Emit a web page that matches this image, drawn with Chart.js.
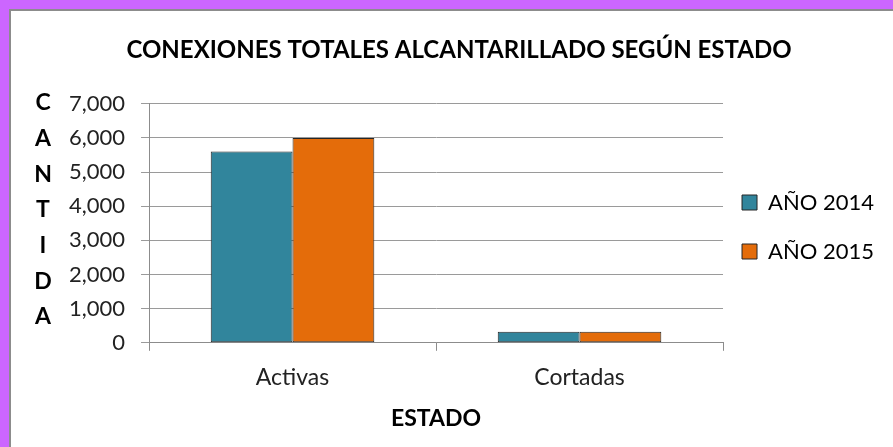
<!DOCTYPE html>
<html>
<head>
<meta charset="utf-8">
<script src="https://cdn.jsdelivr.net/npm/chart.js@4"></script>
<style>
  html, body { margin: 0; padding: 0; }
  body { width: 893px; height: 447px; background: #cc66ff; position: relative; overflow: hidden; }
  #marco { position: absolute; left: 9px; top: 9px; right: 0; bottom: 0; background: #fff;
           border-left: 2px solid #8c8c8c; border-top: 2px solid #8c8c8c; }
  #caja { position: absolute; left: 0; top: 0; width: 882px; height: 436px; }
</style>
</head>
<body>
<div id="marco"><div id="caja"><canvas id="grafico"></canvas></div></div>
<script>
// Datos
const categorias = ['Activas', 'Cortadas'];
const anio2014 = [5600, 320];
const anio2015 = [6000, 320];
const etiquetasSeries = ['AÑO 2014', 'AÑO 2015'];
const letrasEjeY = ['C', 'A', 'N', 'T', 'I', 'D', 'A'];

const fuente = 'Lato, "Open Sans", sans-serif';

// Letras apiladas del titulo del eje Y
const letrasVerticales = {
    id: 'letrasVerticales',
    afterDraw(chart) {
        const ctx = chart.ctx;
        const top = chart.chartArea.top;
        ctx.save();
        ctx.font = 'bold 23px ' + fuente;
        ctx.fillStyle = '#000';
        ctx.textAlign = 'center';
        ctx.textBaseline = 'middle';
        letrasEjeY.forEach((l, i) => {
            ctx.fillText(l, 32, top - 1 + i * 35.7);
        });
        ctx.restore();
    }
};

document.addEventListener('DOMContentLoaded', () => {
    const ctx = document.getElementById('grafico').getContext('2d');
    new Chart(ctx, {
        type: 'bar',
        data: {
            labels: categorias,
            datasets: [
                {
                    label: etiquetasSeries[0],
                    data: anio2014,
                    backgroundColor: '#31859c',
                    borderColor: '#262626',
                    borderWidth: 1,
                    borderSkipped: false
                },
                {
                    label: etiquetasSeries[1],
                    data: anio2015,
                    backgroundColor: '#e46c0a',
                    borderColor: '#262626',
                    borderWidth: 1,
                    borderSkipped: false
                }
            ]
        },
        options: {
            responsive: true,
            maintainAspectRatio: false,
            animation: false,
            locale: 'en-US',
            categoryPercentage: 0.57,
            barPercentage: 1,
            layout: {
                padding: { left: 23, right: 9, top: 10, bottom: 6 }
            },
            plugins: {
                title: {
                    display: true,
                    text: 'CONEXIONES TOTALES ALCANTARILLADO SEGÚN ESTADO',
                    color: '#000',
                    font: { family: fuente, size: 24, weight: 'bold' },
                    padding: { top: 15, bottom: 39 }
                },
                legend: {
                    position: 'right',
                    labels: {
                        boxWidth: 15,
                        boxHeight: 15,
                        padding: 19,
                        color: '#000',
                        font: { family: fuente, size: 22, lineHeight: '30px' },
                        generateLabels(chart) {
                            const items = Chart.defaults.plugins.legend.labels.generateLabels(chart);
                            items.forEach(it => { it.text = [it.text]; });
                            return items;
                        }
                    }
                },
                tooltip: { enabled: false }
            },
            scales: {
                x: {
                    grid: {
                        offset: true,
                        drawOnChartArea: false,
                        drawTicks: true,
                        tickLength: 8,
                        color: '#8c8c8c'
                    },
                    border: { color: '#8c8c8c' },
                    ticks: {
                        color: '#222',
                        padding: 13,
                        font: { family: fuente, size: 23 }
                    },
                    title: {
                        display: true,
                        text: 'ESTADO',
                        color: '#000',
                        font: { family: fuente, size: 23, weight: 'bold' },
                        padding: { top: 0, bottom: 9 }
                    }
                },
                y: {
                    min: 0,
                    max: 7000,
                    afterFit(scale) { scale.width += 19; },
                    grid: {
                        color: '#9a9a9a',
                        tickLength: 8
                    },
                    border: { color: '#8c8c8c' },
                    ticks: {
                        stepSize: 1000,
                        color: '#222',
                        padding: 16,
                        font: { family: fuente, size: 22 }
                    }
                }
            }
        },
        plugins: [letrasVerticales]
    });
});
</script>
</body>
</html>
